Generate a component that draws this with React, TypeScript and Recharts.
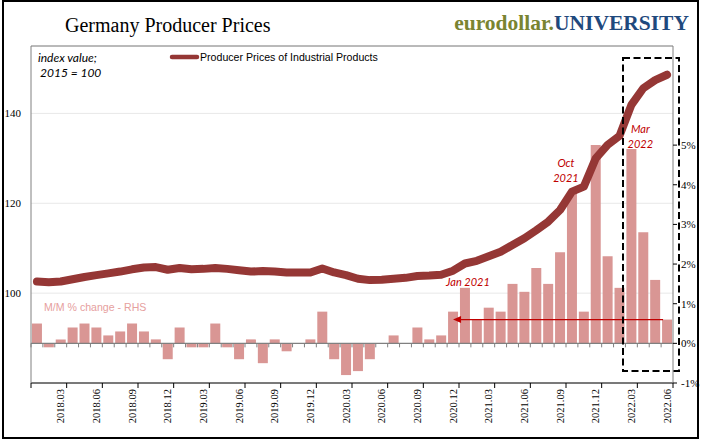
import {
  ComposedChart,
  Bar,
  Line,
  XAxis,
  YAxis,
  CartesianGrid,
  ReferenceLine,
  ReferenceDot,
} from "recharts";

const MONTHS = [
  "2018.01", "2018.02", "2018.03", "2018.04", "2018.05", "2018.06",
  "2018.07", "2018.08", "2018.09", "2018.10", "2018.11", "2018.12",
  "2019.01", "2019.02", "2019.03", "2019.04", "2019.05", "2019.06",
  "2019.07", "2019.08", "2019.09", "2019.10", "2019.11", "2019.12",
  "2020.01", "2020.02", "2020.03", "2020.04", "2020.05", "2020.06",
  "2020.07", "2020.08", "2020.09", "2020.10", "2020.11", "2020.12",
  "2021.01", "2021.02", "2021.03", "2021.04", "2021.05", "2021.06",
  "2021.07", "2021.08", "2021.09", "2021.10", "2021.11", "2021.12",
  "2022.01", "2022.02", "2022.03", "2022.04", "2022.05", "2022.06",
];

// index value, 2015 = 100
const PPI_INDEX = [
  102.6, 102.4, 102.6, 103.1, 103.6, 104.0, 104.4, 104.8, 105.3, 105.7, 105.8, 105.2,
  105.6, 105.3, 105.4, 105.6, 105.4, 105.1, 104.8, 104.9, 104.8, 104.6, 104.6, 104.6,
  105.5, 104.6, 104.0, 103.2, 102.9, 103.0, 103.2, 103.4, 103.8, 103.9, 104.1, 105.0,
  106.6, 107.2, 108.2, 109.2, 110.7, 112.2, 114.0, 115.9, 118.5, 122.6, 123.7, 130.0,
  133.0, 135.0, 141.9, 145.6, 147.4, 148.6,
];

// month over month, %
const MM_CHANGE = [
  0.5, -0.1, 0.1, 0.4, 0.5, 0.4, 0.2, 0.3, 0.5, 0.3, 0.1, -0.4,
  0.4, -0.1, -0.1, 0.5, -0.1, -0.4, 0.1, -0.5, 0.1, -0.2, 0.0, 0.1,
  0.8, -0.4, -0.8, -0.7, -0.4, 0.0, 0.2, 0.0, 0.4, 0.1, 0.2, 0.8,
  1.4, 0.6, 0.9, 0.8, 1.5, 1.3, 1.9, 1.5, 2.3, 3.8, 0.8, 5.0,
  2.2, 1.4, 4.9, 2.8, 1.6, 0.6,
];

const LEFT_TICKS = [100, 120, 140];
const RIGHT_TICKS = [-1, 0, 1, 2, 3, 4, 5];

const data = MONTHS.map((month, i) => ({
  month,
  ppi: PPI_INDEX[i],
  mm: MM_CHANGE[i],
}));

const W = 705;
const H = 441;
const LEFT_AXIS_W = 31;
const RIGHT_AXIS_W = 32;
const BAND = (W - LEFT_AXIS_W - RIGHT_AXIS_W) / MONTHS.length;

const SERIF = "'Liberation Serif', 'Times New Roman', serif";
const SANS = "'Liberation Sans', Arial, sans-serif";
const NOTE = "Lato, 'Open Sans', sans-serif";
const LINE_COLOR = "#953735";
const BAR_COLOR = "#d99694";
const NOTE_RED = "#c00000";

function MonthTick(props: any) {
  const { x, y, payload } = props;
  const i = payload?.index ?? props.index;
  return (
    <g>
      {i === 0 && (
        <line x1={x - BAND / 2} x2={x - BAND / 2} y1={y} y2={y + 5} stroke="#000" />
      )}
      {i % 3 === 2 && (
        <>
          <line x1={x + BAND / 2} x2={x + BAND / 2} y1={y} y2={y + 5} stroke="#000" />
          <text
            x={x}
            y={y + 6}
            transform={`rotate(-90, ${x}, ${y + 6})`}
            textAnchor="end"
            dy="0.35em"
            fontSize={10.5}
            fontFamily={SERIF}
            fill="#000"
          >
            {payload.value}
          </text>
        </>
      )}
    </g>
  );
}

function ZeroLine(props: any) {
  const { x1, x2, y1 } = props;
  if (x1 == null) return null;
  const step = (x2 - x1) / MONTHS.length;
  return (
    <g>
      <line x1={x1} x2={x2} y1={y1} y2={y1} stroke="#808080" strokeWidth={1.3} />
      {MONTHS.map((_, k) => (
        <line
          key={k}
          x1={x1 + (k + 1) * step}
          x2={x1 + (k + 1) * step}
          y1={y1}
          y2={y1 + 4}
          stroke="#808080"
        />
      ))}
    </g>
  );
}

function ArrowLine(props: any) {
  const { x1, x2, y1 } = props;
  if (x1 == null) return null;
  const l = Math.min(x1, x2);
  const r = Math.max(x1, x2);
  return (
    <g>
      <line x1={l + 6} x2={r - 4} y1={y1} y2={y1} stroke={NOTE_RED} strokeWidth={1.3} />
      <path d={`M${l},${y1} L${l + 8},${y1 - 3.5} L${l + 8},${y1 + 3.5} Z`} fill={NOTE_RED} />
    </g>
  );
}

function noteText(lines: string[], dx: number, dys: number[]) {
  return (p: any) => (
    <g>
      {lines.map((t, k) => (
        <text
          key={k}
          x={p.cx + dx}
          y={p.cy + dys[k]}
          textAnchor="middle"
          fontSize={11}
          fontStyle="italic"
          fontFamily={NOTE}
          fill={NOTE_RED}
        >
          {t}
        </text>
      ))}
    </g>
  );
}

export default function App() {
  return (
    <div style={{ position: "absolute", left: 0, top: 0, width: W, height: H, background: "#fff" }}>
      <ComposedChart
        width={W}
        height={H}
        data={data}
        margin={{ top: 46, right: 0, bottom: 0, left: 0 }}
        barCategoryGap="8%"
      >
        <CartesianGrid yAxisId="left" vertical={false} stroke="#e8e8e8" />
        <XAxis
          dataKey="month"
          interval={0}
          height={58}
          tickSize={0}
          tickMargin={0}
          tickLine={false}
          axisLine={{ stroke: "#000" }}
          tick={<MonthTick />}
        />
        <YAxis
          yAxisId="left"
          width={LEFT_AXIS_W}
          domain={[80, 155]}
          ticks={LEFT_TICKS}
          interval={0}
          tickLine={false}
          tickMargin={4}
          axisLine={{ stroke: "#808080" }}
          tick={{ fontSize: 11, fontFamily: SERIF, fill: "#000" }}
        />
        <YAxis
          yAxisId="right"
          orientation="right"
          width={RIGHT_AXIS_W}
          domain={[-1, 7.5]}
          ticks={RIGHT_TICKS}
          interval={0}
          tickSize={4}
          tickMargin={4}
          tickLine={{ stroke: "#000" }}
          axisLine={{ stroke: "#808080" }}
          tickFormatter={(v) => `${v}%`}
          tick={{ fontSize: 11, fontFamily: SERIF, fill: "#000", textAnchor: "start" }}
        />
        <ReferenceLine yAxisId="left" y={155} stroke="#808080" />
        <Bar yAxisId="right" dataKey="mm" fill={BAR_COLOR} isAnimationActive={false} />
        <ReferenceLine yAxisId="right" y={0} shape={ZeroLine} />
        <ReferenceLine
          yAxisId="right"
          segment={[
            { x: "2020.12", y: 0.6 },
            { x: "2022.06", y: 0.6 },
          ]}
          shape={ArrowLine}
        />
        <Line
          yAxisId="left"
          type="linear"
          dataKey="ppi"
          stroke={LINE_COLOR}
          strokeWidth={8}
          strokeLinecap="round"
          strokeLinejoin="round"
          dot={false}
          isAnimationActive={false}
        />
        <ReferenceDot yAxisId="right" x="2021.01" y={1.4} r={0} shape={noteText(["Jan 2021"], 3, [-2])} />
        <ReferenceDot yAxisId="left" x="2021.10" y={122.6} r={0} shape={noteText(["Oct", "2021"], -6, [-25, -10])} />
        <ReferenceDot yAxisId="right" x="2022.03" y={4.9} r={0} shape={noteText(["Mar", "2022"], 9, [-16, -1])} />
      </ComposedChart>

      <svg
        width={W}
        height={H}
        style={{ position: "absolute", left: 0, top: 0, pointerEvents: "none" }}
      >
        <rect x={3} y={1} width={695} height={437} fill="none" stroke="#000" strokeWidth={2} />
        <text x={65} y={32} fontSize={20} fontFamily={SERIF} fill="#000">
          Germany Producer Prices
        </text>
        <text x={689} y={30} textAnchor="end" fontSize={21.5} fontWeight="bold" fontFamily={SERIF}>
          <tspan fill="#7a8431">eurodollar.</tspan>
          <tspan fill="#1f497d">UNIVERSITY</tspan>
        </text>
        <text x={38} y={62} fontSize={12} fontStyle="italic" fontFamily={NOTE} fill="#000">
          index value;
        </text>
        <text x={40} y={77} fontSize={12} fontStyle="italic" fontFamily={NOTE} fill="#000">
          2015 = 100
        </text>
        <line x1={172} x2={197} y1={57} y2={57} stroke={LINE_COLOR} strokeWidth={4.5} strokeLinecap="round" />
        <text x={200} y={61} fontSize={10.6} fontFamily={SANS} fill="#000">
          Producer Prices of Industrial Products
        </text>
        <text x={44} y={311} fontSize={10.6} fontFamily={SANS} fill="#e6a09e">
          M/M % change - RHS
        </text>
        <rect
          x={623}
          y={58}
          width={56}
          height={313}
          fill="none"
          stroke="#000"
          strokeWidth={2}
          strokeDasharray="7 3.5"
        />
      </svg>
    </div>
  );
}
